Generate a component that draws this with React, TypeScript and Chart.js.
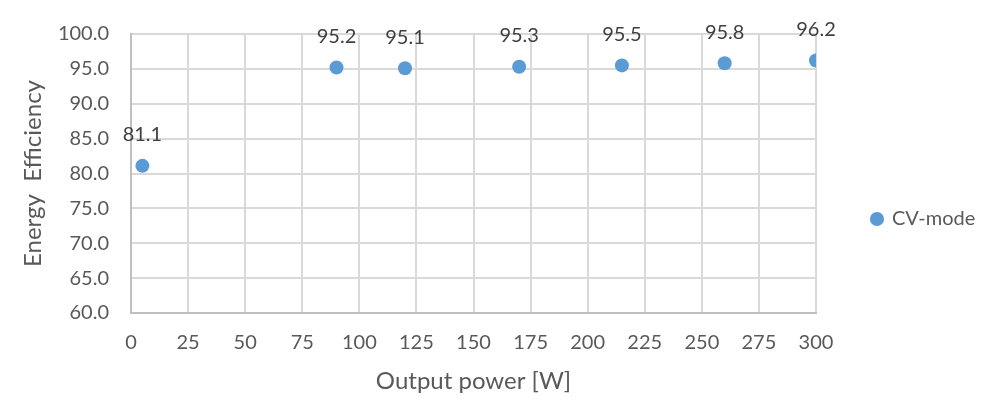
import { useEffect, useRef } from "react";
import { Chart, registerables } from "chart.js";

Chart.register(...registerables);

const seriesName = "CV-mode";
const outputPower = [5, 90, 120, 170, 215, 260, 300];
const efficiency = [81.1, 95.2, 95.1, 95.3, 95.5, 95.8, 96.2];
const xAxisTitle = "Output power [W]";
const yAxisTitle = "Energy  Efficiency";
const xRange = [0, 300];
const xStep = 25;
const yRange = [60, 100];
const yStep = 5;

const FONT = "Lato";
const TEXT = "#595959";
const LABEL = "#404040";
const GRID = "#d9d9d9";
const BLUE = "#5b9bd5";

const W = 991;
const H = 407;
const PLOT_LEFT = 131;
const PLOT_RIGHT = 816;
const PLOT_TOP = 31;
const PLOT_BOTTOM = 313;

const dataLabels = {
  id: "dataLabels",
  afterDatasetsDraw(chart: any) {
    const ctx = chart.ctx;
    ctx.save();
    ctx.font = `20px ${FONT}`;
    ctx.fillStyle = LABEL;
    ctx.textAlign = "center";
    ctx.textBaseline = "middle";
    chart.data.datasets.forEach((ds: any, di: number) => {
      const meta = chart.getDatasetMeta(di);
      meta.data.forEach((el: any, i: number) => {
        const v = ds.data[i].y;
        ctx.fillText(v.toFixed(1), el.x, el.y - 31);
      });
    });
    ctx.restore();
  },
};

const legendWidth = {
  id: "legendWidth",
  beforeLayout(chart: any) {
    const lg = chart.legend;
    if (lg && !lg.__patched) {
      const orig = lg.fit.bind(lg);
      lg.fit = function () {
        orig();
        this.width = W - PLOT_RIGHT;
      };
      lg.__patched = true;
    }
  },
};

export default function App() {
  const ref = useRef<HTMLCanvasElement | null>(null);

  useEffect(() => {
    if (!ref.current) return;
    const chart = new Chart(ref.current, {
      type: "scatter",
      data: {
        datasets: [
          {
            label: seriesName,
            data: outputPower.map((x, i) => ({ x, y: efficiency[i] })),
            backgroundColor: BLUE,
            borderColor: BLUE,
            pointRadius: 7,
            pointHoverRadius: 7,
            pointBorderWidth: 0,
          },
        ],
      },
      options: {
        animation: false,
        responsive: true,
        maintainAspectRatio: false,
        devicePixelRatio: 1,
        layout: { padding: { left: 0, right: 0, top: PLOT_TOP, bottom: 0 } },
        plugins: {
          tooltip: { enabled: false },
          legend: {
            position: "right",
            align: "center",
            labels: {
              usePointStyle: true,
              pointStyle: "circle",
              boxWidth: 10,
              boxHeight: 10,
              padding: 56,
              color: TEXT,
              font: { family: FONT, size: 20 },
            },
          },
        },
        scales: {
          x: {
            type: "linear",
            min: xRange[0],
            max: xRange[1],
            afterFit(scale: any) {
              scale.height = H - PLOT_BOTTOM;
            },
            ticks: {
              stepSize: xStep,
              color: TEXT,
              padding: 18,
              font: { family: FONT, size: 20 },
              maxRotation: 0,
            },
            grid: { color: GRID, lineWidth: 2, drawTicks: false },
            border: { color: "#bfbfbf", width: 2 },
            title: {
              display: true,
              text: xAxisTitle,
              color: TEXT,
              font: { family: FONT, size: 24 },
              padding: { top: 0, bottom: 11 },
            },
          },
          y: {
            type: "linear",
            min: yRange[0],
            max: yRange[1],
            afterFit(scale: any) {
              scale.width = PLOT_LEFT;
            },
            ticks: {
              stepSize: yStep,
              color: TEXT,
              padding: 22,
              font: { family: FONT, size: 20 },
              callback: (v: any) => Number(v).toFixed(1),
            },
            grid: { color: GRID, lineWidth: 2, drawTicks: false },
            border: { color: "#bfbfbf", width: 2 },
            title: {
              display: true,
              text: yAxisTitle,
              color: TEXT,
              font: { family: FONT, size: 24 },
              padding: { top: 19, bottom: 0 },
            },
          },
        },
      },
      plugins: [dataLabels, legendWidth],
    });
    return () => chart.destroy();
  }, []);

  return (
    <div style={{ position: "absolute", left: 0, top: 0, width: W, height: H, background: "#fff" }}>
      <canvas ref={ref} />
    </div>
  );
}
